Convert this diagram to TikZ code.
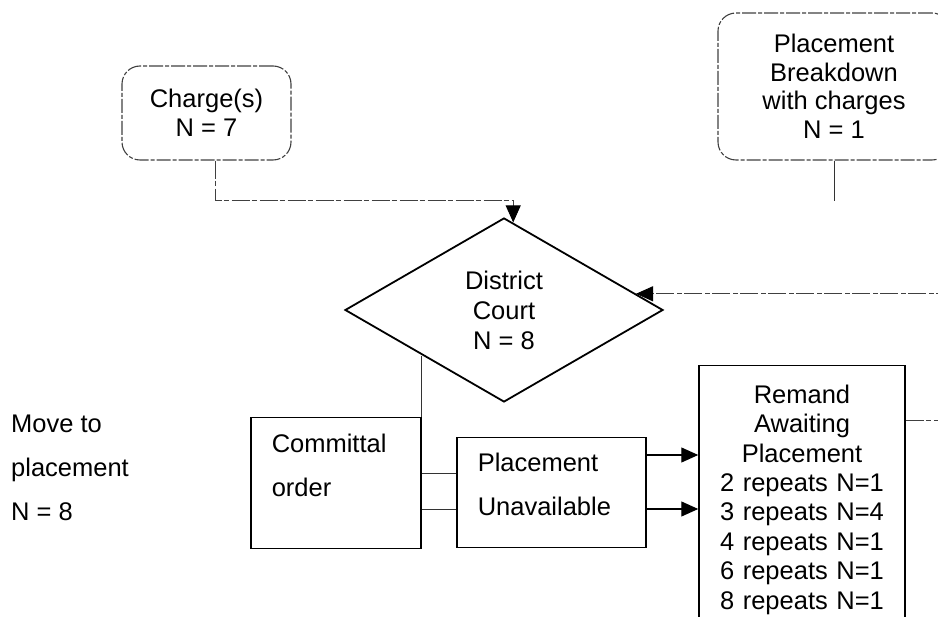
\documentclass[tikz,border=0pt]{standalone}
\usepackage{fontspec}
\setmainfont{Liberation Sans}
\usetikzlibrary{shapes.geometric,arrows.meta,calc}

\begin{document}
\begin{tikzpicture}[x=1pt,y=-1pt,
  every node/.style={font=\fontsize{25.5}{28.5}\selectfont, inner sep=0pt},
  softbox/.style={draw=black!75, line width=1.1pt, rounded corners=18pt,
    dash pattern=on 14pt off 2pt on 4pt off 2pt, align=center},
  plainbox/.style={draw=black, line width=1.5pt},
  courtbox/.style={draw=black, line width=1.8pt, diamond, minimum width=318pt,
    minimum height=184pt, align=center, font=\fontsize{25.5}{30}\selectfont},
  spacedtext/.style={font=\fontsize{25.5}{44}\selectfont, align=left},
  thinlink/.style={draw=black!80, line width=0.9pt},
  faintlink/.style={draw=black!75, line width=0.9pt,
    dash pattern=on 18pt off 2pt on 5pt off 3pt},
  solidlink/.style={draw=black, line width=1.2pt},
  arrowtip/.style={-{Triangle[length=17pt,width=15pt,color=black]}},
]
\useasboundingbox (0,0) rectangle (938,617);
\clip (0,0) rectangle (938,617);

% entry points
\node[softbox, minimum width=169pt, minimum height=94pt] (ch) at (206.5,113)
  {Charge(s)\\N = 7};
\node[softbox, minimum width=232pt, minimum height=147pt] (bd) at (834,86.5)
  {Placement\\Breakdown\\with charges\\N = 1};

% court decision
\node[courtbox] (dc) at (504,310) {District\\Court\\N = 8};

% outcomes
\node[plainbox, spacedtext, anchor=north west, text width=128pt, inner xsep=21pt,
  minimum height=131pt] (co) at (250,417) {Committal\\order\\[-8.6pt]\mbox{}};
\node[plainbox, spacedtext, anchor=north west, text width=147pt, inner xsep=21pt,
  minimum height=110pt] (pu) at (456,437) {Placement\\Unavailable\\[-27.6pt]\mbox{}};
\node[plainbox, anchor=north, align=center, text width=206pt, inner xsep=0pt,
  inner ysep=19pt, font=\fontsize{25.5}{29.4}\selectfont] (rm) at (802,365)
  {Remand\\Awaiting\\Placement\\2 repeats N=1\\3 repeats N=4\\4 repeats N=1\\6 repeats N=1\\8 repeats N=1};

\node[spacedtext, anchor=north west] (mv) at (11,415) {Move to\\placement\\N = 8};

% connectors
\coordinate (chout) at ($(ch.south)+(8.5,0)$);
\coordinate (dcin) at (dc.84);
\draw[faintlink, arrowtip] (chout) |- (dcin |- 0,200) -- (dcin);

\draw[thinlink] (bd.south) -- ++(0,40);

\coordinate (rmout) at ($(rm.north east)+(0,55)$);
\draw[faintlink, arrowtip] (rmout) -- ++(45,0) |- (dc.7.56);

\draw[thinlink] (co.north east) -- (co.north east |- dc.south west);

\coordinate (c1) at ($(co.north east)+(0,56)$);
\coordinate (c2) at ($(co.north east)+(0,92)$);
\draw[thinlink] (c1) -- (c1 -| pu.west);
\draw[thinlink] (c2) -- (c2 -| pu.west);

\coordinate (p1) at ($(pu.north east)+(0,18)$);
\coordinate (p2) at ($(pu.north east)+(0,72)$);
\draw[solidlink, arrowtip] (p1) -- (p1 -| rm.west);
\draw[solidlink, arrowtip] (p2) -- (p2 -| rm.west);
\end{tikzpicture}
\end{document}
